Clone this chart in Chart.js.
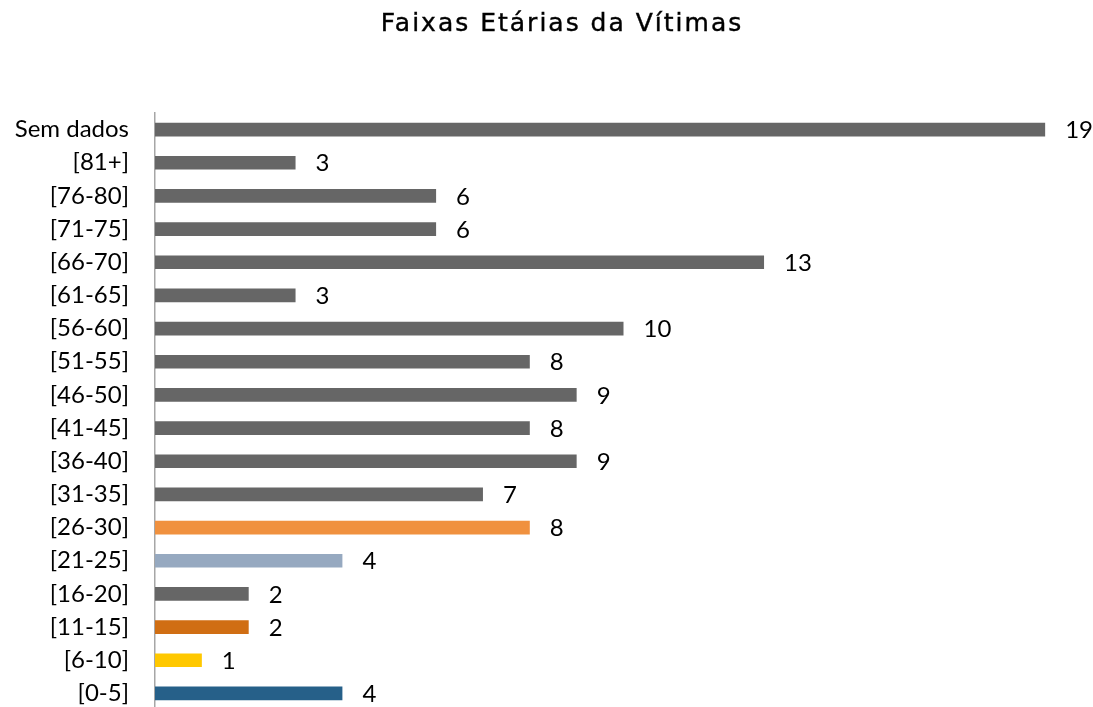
<!DOCTYPE html>
<html>
<head>
<meta charset="utf-8">
<script src="https://cdn.jsdelivr.net/npm/chart.js@4/dist/chart.umd.min.js"></script>
<style>
html,body{margin:0;padding:0;background:#fff;overflow:hidden;}
canvas{display:block;}
</style>
</head>
<body>
<canvas id="c" width="1093" height="710"></canvas>
<script>
const categories = ["Sem dados","[81+]","[76-80]","[71-75]","[66-70]","[61-65]","[56-60]","[51-55]","[46-50]","[41-45]","[36-40]","[31-35]","[26-30]","[21-25]","[16-20]","[11-15]","[6-10]","[0-5]"];
const values = [19,3,6,6,13,3,10,8,9,8,9,7,8,4,2,2,1,4];
const barColors = ["#666666","#666666","#666666","#666666","#666666","#666666","#666666","#666666","#666666","#666666","#666666","#666666","#F0913F","#96A9C0","#666666","#D06E13","#FFC800","#266089"];
const titleText = "Faixas Etárias da Vítimas";

const titlePlugin = {
  id: 'spacedTitle',
  afterDraw(chart){
    const ctx = chart.ctx;
    ctx.save();
    ctx.font = '25px "DejaVu Sans"';
    if ('letterSpacing' in ctx) ctx.letterSpacing = '2px';
    ctx.fillStyle = '#000';
    ctx.strokeStyle = '#000';
    ctx.lineWidth = 0.4;
    ctx.textAlign = 'center';
    ctx.textBaseline = 'alphabetic';
    ctx.fillText(titleText, 562, 31);
    ctx.strokeText(titleText, 562, 31);
    ctx.restore();
  }
};

const labelPlugin = {
  id: 'valLabels',
  afterDatasetsDraw(chart){
    const ctx = chart.ctx;
    const meta = chart.getDatasetMeta(0);
    const xs = chart.scales.x;
    ctx.save();
    ctx.font = '24px Lato';
    ctx.fillStyle = '#000';
    ctx.textAlign = 'left';
    ctx.textBaseline = 'middle';
    meta.data.forEach((bar,i)=>{
      const v = values[i];
      ctx.fillText(String(v), xs.getPixelForValue(v) + 20, bar.y + 1);
    });
    ctx.restore();
  }
};

new Chart(document.getElementById('c'), {
  type: 'bar',
  data: {
    labels: categories,
    datasets: [{
      data: values,
      backgroundColor: barColors,
      barPercentage: 0.41,
      categoryPercentage: 1
    }]
  },
  options: {
    indexAxis: 'y',
    responsive: false,
    animation: false,
    layout: { padding: { left: 0, right: 1, top: 113, bottom: 0 } },
    plugins: {
      legend: { display: false },
      tooltip: { enabled: false },
      title: { display: false }
    },
    scales: {
      x: { display: false, min: 0, max: 20 },
      y: {
        afterFit(scale){ scale.width = 155; scale.paddingTop = 0; scale.paddingBottom = 0; },
        grid: { display: false, drawTicks: false },
        border: { display: true, color: '#A6A6A6', width: 1.5 },
        ticks: { color: '#000', padding: 26, font: { family: 'Lato', size: 24 } }
      }
    }
  },
  plugins: [labelPlugin, titlePlugin]
});
</script>
</body>
</html>
